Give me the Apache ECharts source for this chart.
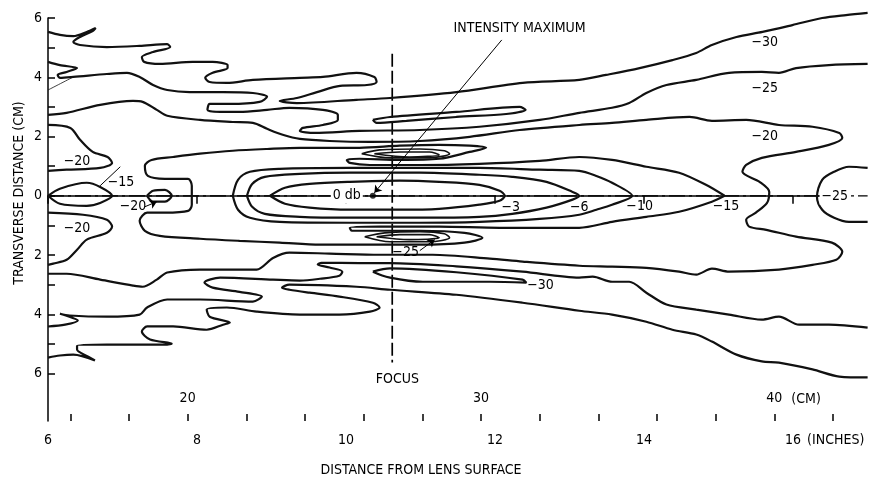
<!DOCTYPE html>
<html>
<head>
<meta charset="utf-8">
<script src="https://cdn.jsdelivr.net/npm/echarts@6/dist/echarts.min.js"></script>
<style>
  html, body { margin: 0; padding: 0; background: #fff; }
  #chart { width: 874px; height: 477px; }
</style>
</head>
<body>
<div id="chart"></div>
<script>
// Axis ticks and labels (x in inches with a secondary centimetre scale, y in cm)
const inchTicks = [6, 8, 10, 12, 14, 16];
const cmTicks = [16, 18, 20, 22, 24, 26, 28, 30, 32, 34, 36, 38, 40, 42];
const cmLabels = [20, 30, 40];
const yTicks = [-6, -5, -4, -3, -2, -1, 0, 1, 2, 3, 4, 5, 6];
const yLabels = [-6, -4, -2, 0, 2, 4, 6];

// Iso-intensity contours, points as [inches from lens, transverse cm]
const contour30Upper = [[6.00,5.53],[6.16,5.43],[6.34,5.39],[6.52,5.53],[6.64,5.66],[6.60,5.56],[6.43,5.36],[6.34,5.19],[6.43,5.09],[6.79,5.02],[7.23,5.06],[7.60,5.12],[7.64,5.02],[7.41,4.85],[7.26,4.68],[7.29,4.52],[7.50,4.45],[7.94,4.52],[8.21,4.52],[8.41,4.41],[8.41,4.31],[8.21,4.15],[8.11,3.98],[8.17,3.84],[8.40,3.81],[8.75,3.91],[9.38,3.98],[9.69,4.01],[10.14,4.15],[10.38,4.01],[10.41,3.84],[10.28,3.74],[9.92,3.71],[9.61,3.50],[9.34,3.30],[9.11,3.20],[9.34,3.13],[10.14,3.24],[10.59,3.30],[11.48,3.50],[12.37,3.81],[13.13,3.91],[13.49,4.08],[13.94,4.31],[14.38,4.58],[14.70,4.82],[14.91,5.09],[15.24,5.36],[15.59,5.53],[15.99,5.76],[16.39,6.00],[16.71,6.10],[17.00,6.17]];
const finger30Upper = [[10.36,2.56],[10.59,2.66],[11.48,2.83],[12.33,3.00],[12.41,2.90],[12.15,2.76],[11.48,2.66],[10.81,2.53],[10.41,2.46],[10.36,2.56]];
const contour25Upper = [[6.00,4.52],[6.16,4.41],[6.39,4.31],[6.25,4.18],[6.13,4.08],[6.16,3.98],[6.34,4.01],[6.79,4.11],[7.06,4.15],[7.23,4.01],[7.41,3.74],[7.60,3.57],[7.90,3.50],[8.35,3.50],[8.75,3.47],[8.94,3.34],[8.84,3.17],[8.44,3.10],[8.17,3.10],[8.14,2.90],[8.31,2.83],[8.57,2.83],[8.94,2.90],[9.24,2.97],[9.69,2.90],[9.89,2.73],[9.89,2.56],[9.69,2.39],[9.42,2.29],[9.38,2.19],[9.58,2.12],[10.18,2.19],[10.99,2.22],[11.79,2.33],[12.60,2.56],[13.13,2.80],[13.57,2.97],[13.80,3.13],[14.03,3.47],[14.30,3.74],[14.70,3.91],[15.14,4.15],[15.58,4.18],[15.81,4.15],[16.04,4.31],[16.48,4.41],[17.00,4.45]];
const contour20 = [[6.00,2.73],[6.25,2.80],[6.70,3.07],[7.14,3.20],[7.27,3.17],[7.46,2.90],[7.60,2.70],[8.04,2.56],[8.48,2.49],[8.75,2.46],[8.94,2.26],[9.15,2.06],[9.38,1.92],[9.78,1.85],[10.32,1.82],[10.99,1.85],[11.66,1.99],[12.33,2.22],[13.13,2.39],[13.57,2.46],[14.03,2.56],[14.61,2.66],[14.91,2.53],[15.37,2.56],[15.81,2.39],[16.26,2.33],[16.62,2.12],[16.66,1.95],[16.48,1.72],[16.04,1.48],[15.58,1.28],[15.37,1.04],[15.32,0.81],[15.55,0.47],[15.68,0.13],[15.65,-0.24],[15.50,-0.57],[15.37,-0.81],[15.41,-1.04],[15.64,-1.15],[16.04,-1.38],[16.52,-1.58],[16.66,-1.89],[16.58,-2.16],[16.26,-2.33],[15.81,-2.49],[15.14,-2.56],[14.91,-2.46],[14.70,-2.66],[14.47,-2.56],[14.03,-2.43],[13.57,-2.39],[13.13,-2.36],[12.37,-2.22],[11.93,-2.12],[11.16,-1.99],[10.45,-1.99],[9.78,-1.95],[9.24,-1.92],[9.02,-2.10],[8.80,-2.49],[8.48,-2.49],[8.04,-2.49],[7.60,-2.59],[7.46,-2.83],[7.27,-3.07],[7.14,-3.03],[6.70,-2.83],[6.25,-2.63],[6.00,-2.63]];
const contour15 = [[15.08,0],[14.83,0.37],[14.47,0.78],[14.03,0.98],[13.57,1.21],[13.13,1.31],[12.60,1.18],[11.79,1.08],[10.99,1.04],[10.32,1.04],[10.05,1.11],[10.01,1.21],[10.18,1.25],[10.72,1.21],[11.25,1.25],[11.66,1.48],[11.88,1.62],[11.66,1.69],[11.25,1.72],[10.72,1.69],[10.18,1.62],[9.65,1.62],[9.38,1.62],[8.94,1.58],[8.48,1.52],[8.04,1.42],[7.68,1.31],[7.39,1.21],[7.30,1.01],[7.34,0.67],[7.57,0.57],[7.88,0.57],[7.93,0.34],[7.93,-0.30],[7.88,-0.51],[7.57,-0.57],[7.33,-0.57],[7.23,-0.84],[7.30,-1.18],[7.50,-1.35],[8.04,-1.45],[8.57,-1.52],[9.11,-1.58],[9.65,-1.65],[10.18,-1.65],[10.99,-1.65],[11.59,-1.58],[11.83,-1.42],[11.59,-1.25],[10.99,-1.18],[10.45,-1.18],[10.08,-1.18],[10.05,-1.08],[10.45,-1.04],[11.25,-1.04],[12.06,-1.08],[13.13,-1.08],[13.57,-0.88],[14.03,-0.71],[14.47,-0.54],[14.91,-0.20],[15.08,0]];
const contour10 = [[8.48,0],[8.55,0.54],[8.71,0.81],[9.11,0.91],[10.05,0.94],[10.99,0.94],[11.79,0.94],[12.60,0.88],[13.13,0.84],[13.36,0.67],[13.57,0.44],[13.84,0],[13.57,-0.30],[13.36,-0.47],[13.13,-0.64],[12.60,-0.78],[11.79,-0.88],[10.99,-0.91],[10.05,-0.91],[9.11,-0.88],[8.71,-0.74],[8.55,-0.47],[8.48,0]];
const contour6 = [[8.67,0],[8.74,0.40],[8.91,0.64],[9.38,0.74],[10.05,0.78],[10.99,0.78],[11.79,0.71],[12.23,0.64],[12.69,0.47],[13.04,0.13],[13.13,0],[13.04,-0.13],[12.69,-0.40],[12.23,-0.61],[11.79,-0.71],[10.99,-0.74],[10.05,-0.74],[9.38,-0.71],[8.91,-0.61],[8.74,-0.37],[8.67,0]];
const contour3 = [[8.98,0],[9.18,0.27],[9.51,0.40],[10.05,0.47],[10.72,0.51],[11.25,0.47],[11.79,0.37],[12.06,0.17],[12.13,0],[12.06,-0.17],[11.79,-0.30],[11.25,-0.44],[10.72,-0.47],[10.05,-0.47],[9.51,-0.40],[9.18,-0.27],[8.98,0]];
const contour25Lower = [[6.00,-4.41],[6.23,-4.35],[6.40,-4.21],[6.24,-4.04],[6.16,-3.98],[6.29,-4.04],[6.79,-4.08],[7.23,-4.01],[7.33,-3.77],[7.60,-3.50],[8.04,-3.50],[8.75,-3.57],[8.87,-3.40],[8.57,-3.24],[8.21,-3.10],[8.10,-2.93],[8.31,-2.76],[9.02,-2.83],[9.38,-2.86],[9.65,-2.80],[9.91,-2.70],[9.95,-2.56],[9.78,-2.42],[9.62,-2.32],[9.67,-2.26],[10.18,-2.27],[10.59,-2.27],[11.48,-2.38],[12.37,-2.56],[13.13,-2.76],[13.31,-2.73],[13.57,-2.90],[13.80,-2.90],[14.03,-3.27],[14.30,-3.67],[14.70,-3.84],[15.14,-4.01],[15.58,-4.18],[15.81,-4.08],[16.08,-4.35],[16.48,-4.35],[17.00,-4.45]];
const finger30Lower = [[10.36,-2.56],[10.59,-2.45],[11.48,-2.58],[12.37,-2.83],[12.42,-2.93],[11.93,-2.90],[11.03,-2.90],[10.59,-2.76],[10.36,-2.56]];
const contour30Lower = [[6.00,-5.46],[6.16,-5.39],[6.34,-5.36],[6.63,-5.56],[6.54,-5.43],[6.39,-5.19],[6.39,-5.06],[6.79,-5.02],[7.23,-5.02],[7.60,-5.02],[7.66,-4.99],[7.37,-4.85],[7.26,-4.58],[7.33,-4.41],[7.68,-4.41],[8.13,-4.52],[8.35,-4.35],[8.44,-4.28],[8.17,-4.08],[8.13,-3.84],[8.40,-3.77],[8.80,-3.91],[9.38,-4.01],[9.91,-4.01],[10.32,-3.91],[10.45,-3.77],[10.36,-3.61],[9.91,-3.40],[9.51,-3.27],[9.24,-3.17],[9.14,-3.10],[9.24,-3.00],[10.14,-3.07],[10.59,-3.17],[11.48,-3.34],[12.37,-3.61],[13.13,-3.88],[13.57,-4.01],[14.03,-4.25],[14.38,-4.52],[14.70,-4.68],[14.91,-4.92],[15.24,-5.36],[15.58,-5.59],[15.81,-5.63],[16.26,-5.86],[16.62,-6.10],[17.00,-6.13]];
const contour25Far = [[17.00,0.94],[16.75,0.98],[16.55,0.81],[16.39,0.54],[16.32,-0.03],[16.39,-0.47],[16.55,-0.74],[16.75,-0.88],[17.00,-0.88]];
const contour20NearUpper = [[6.00,2.39],[6.30,2.29],[6.43,1.89],[6.60,1.48],[6.80,1.31],[6.86,1.11],[6.70,0.94],[6.25,0.88],[6.00,0.84]];
const contour20NearLower = [[6.00,-0.57],[6.47,-0.64],[6.79,-0.81],[6.86,-1.04],[6.79,-1.25],[6.52,-1.48],[6.39,-1.82],[6.25,-2.16],[6.07,-2.29],[6.00,-2.33]];
const contour15Near = [[6.00,0],[6.16,0.24],[6.52,0.44],[6.70,0.30],[6.86,0],[6.70,-0.24],[6.52,-0.34],[6.16,-0.27],[6.00,0]];
const contour20Island = [[7.33,0],[7.41,0.17],[7.57,0.20],[7.66,0],[7.57,-0.20],[7.41,-0.20],[7.33,0]];
// Deep nulls beside the focal zone (closely packed contours)
const nullUpperA = [[10.21,1.42],[10.45,1.55],[10.99,1.58],[11.32,1.52],[11.39,1.42],[11.12,1.28],[10.59,1.28],[10.21,1.42]];
const nullUpperB = [[10.38,1.42],[10.72,1.48],[11.12,1.48],[11.25,1.38],[10.85,1.31],[10.38,1.42]];
const nullLowerA = [[10.25,-1.38],[10.52,-1.25],[10.99,-1.21],[11.32,-1.28],[11.39,-1.42],[11.12,-1.55],[10.59,-1.55],[10.25,-1.38]];
const nullLowerB = [[10.41,-1.38],[10.72,-1.31],[11.12,-1.31],[11.25,-1.42],[10.85,-1.48],[10.41,-1.38]];
const strayTrace = [[6.00,3.57],[6.34,4.01]];

// Reference lines: beam axis and focal plane
const beamAxis = [[6.00,0],[17.00,0]];
const focusLine = [[10.62,4.79],[10.62,-5.63]];
const intensityMax = [[10.36,0]];

// Contour level labels [x, y, text]
const levelLabels = [
  [15.62,5.19,'−30'],[15.62,3.61,'−25'],[15.62,1.99,'−20'],
  [15.10,-0.37,'−15'],[13.94,-0.37,'−10'],[13.13,-0.40,'−6'],[12.21,-0.40,'−3'],
  [6.39,1.15,'−20'],[6.39,-1.11,'−20'],[6.98,0.44,'−15'],[7.14,-0.37,'−20'],
  [10.80,-1.92,'−25'],[12.61,-3.03,'−30']
];
// Labels sitting on the beam axis (drawn on a white patch)
const axisLabels = [[16.56,-0.03,'−25'],[10.01,0,'0 db']];
const notes = [[12.33,5.66,'INTENSITY MAXIMUM'],[10.69,-6.21,'FOCUS']];
// Leader lines [from, to]; arrows end at the marked feature
const arrowLeaders = [
  [[12.09,5.26],[10.38,0.10]],
  [[7.30,-0.37],[7.46,-0.20]],
  [[10.99,-1.85],[11.19,-1.48]]
];
const plainLeader = [[6.97,0.98],[6.70,0.34]];

const FONT = '"Liberation Sans Narrow","DejaVu Sans Condensed","Arial Narrow",sans-serif';
const INK = '#000';

// Plot box: grid 0 carries the drawing (it runs past the end of the scale),
// grid 1 carries the visible scales. Both share the same inch/cm scale.
const LEFT = 48, TOP = 18, BOTTOM = 56;
const X_MIN = 6, X_SCALE_MAX = 42 / 2.54, X_DRAW_MAX = 17.0;
const Y_MIN = -7.6, Y_MAX = 6, Y_DRAW_MAX = 6.4;
const AXIS_RIGHT = 41;
const pxPerInch = (874 - LEFT - AXIS_RIGHT) / (X_SCALE_MAX - X_MIN);
const pxPerCm = (477 - TOP - BOTTOM) / (Y_MAX - Y_MIN);
const drawRight = 874 - LEFT - pxPerInch * (X_DRAW_MAX - X_MIN);
const drawTop = TOP - pxPerCm * (Y_DRAW_MAX - Y_MAX);

function contour(data, width) {
  return {
    type: 'line', data, smooth: 0.3, symbol: 'none', silent: true,
    xAxisIndex: 0, yAxisIndex: 0,
    lineStyle: { color: '#111', width: width || 2.2 }, z: 3, animation: false
  };
}

const series = [
  contour(contour30Upper), contour(finger30Upper), contour(contour25Upper),
  contour(contour20), contour(contour15), contour(contour10), contour(contour6),
  contour(contour3), contour(contour25Lower), contour(finger30Lower),
  contour(contour30Lower), contour(contour25Far), contour(contour20NearUpper),
  contour(contour20NearLower), contour(contour15Near), contour(contour20Island),
  contour(nullUpperA, 1.6), contour(nullUpperB, 1.6),
  contour(nullLowerA, 1.6), contour(nullLowerB, 1.6),
  contour(strayTrace, 0.8),
  {
    type: 'line', data: beamAxis, symbol: 'none', silent: true, z: 2,
    lineStyle: { color: INK, width: 1.3, type: [16, 4, 3, 4] }, animation: false
  },
  {
    type: 'line', data: focusLine, symbol: 'none', silent: true, z: 2,
    lineStyle: { color: INK, width: 1.7, type: [13, 4] }, animation: false
  },
  {
    type: 'line', data: plainLeader, symbol: 'none', silent: true, z: 4,
    lineStyle: { color: INK, width: 1 }, animation: false
  },
  {
    type: 'lines', coordinateSystem: 'cartesian2d', xAxisIndex: 0, yAxisIndex: 0, silent: true, z: 4,
    data: arrowLeaders.map(c => ({ coords: c })),
    symbol: ['none', 'arrow'], symbolSize: 7,
    lineStyle: { color: INK, width: 1, opacity: 1 }, animation: false
  },
  {
    type: 'scatter', data: intensityMax, symbolSize: 6, z: 7, silent: true,
    itemStyle: { color: INK }, animation: false
  }
];

const labelFont = { color: INK, fontFamily: FONT, fontSize: 14 };
const chart = echarts.init(document.getElementById('chart'));
chart.setOption({
  backgroundColor: '#fff',
  animation: false,
  grid: [
    { left: LEFT, right: drawRight, top: drawTop, bottom: BOTTOM },
    { left: LEFT, right: AXIS_RIGHT, top: TOP, bottom: BOTTOM }
  ],
  xAxis: [
    { type: 'value', gridIndex: 0, min: X_MIN, max: X_DRAW_MAX, show: false },
    {
      type: 'value', gridIndex: 1, min: X_MIN, max: X_SCALE_MAX, position: 'bottom', offset: 0,
      axisLine: { show: true, lineStyle: { color: INK, width: 1.5 } },
      axisTick: { show: true, inside: false, length: 8, customValues: inchTicks, lineStyle: { color: INK, width: 1.5 } },
      axisLabel: Object.assign({ customValues: inchTicks, margin: 12 }, labelFont),
      splitLine: { show: false }
    },
    {
      type: 'value', gridIndex: 1, min: X_MIN * 2.54, max: 42, position: 'bottom', offset: 0,
      axisLine: { show: false },
      axisTick: { show: true, inside: true, length: 7, customValues: cmTicks, lineStyle: { color: INK, width: 1.5 } },
      axisLabel: Object.assign({ inside: true, customValues: cmLabels, margin: 16 }, labelFont),
      splitLine: { show: false }
    }
  ],
  yAxis: [
    { type: 'value', gridIndex: 0, min: Y_MIN, max: Y_DRAW_MAX, show: false },
    {
      type: 'value', gridIndex: 1, min: Y_MIN, max: Y_MAX,
      axisLine: { show: true, lineStyle: { color: INK, width: 1.5 } },
      axisTick: { show: true, inside: true, length: 7, customValues: yTicks, lineStyle: { color: INK, width: 1.5 } },
      axisLabel: Object.assign({ customValues: yLabels, margin: 6, formatter: v => String(Math.abs(v)) }, labelFont),
      splitLine: { show: false }
    }
  ],
  series
});

// Text placed through the drawing grid's scales, plus axis titles and unit tags
const toPx = (x, y) => chart.convertToPixel({ xAxisIndex: 0, yAxisIndex: 0 }, [x, y]);
const px16 = chart.convertToPixel({ xAxisIndex: 1 }, 16);
const px40 = chart.convertToPixel({ xAxisIndex: 2 }, 40);
const baseY = chart.convertToPixel({ yAxisIndex: 1 }, Y_MIN);
const txt = (x, y, text, extra) => ({
  type: 'text', x, y, z: 100,
  style: Object.assign({ text, fill: INK, font: '14px ' + FONT, textAlign: 'left', textVerticalAlign: 'middle' }, extra || {})
});
const placed = (items, extra) => items.map(([x, y, t]) => {
  const p = toPx(x, y);
  return txt(p[0], p[1], t, Object.assign({ textAlign: 'center' }, extra || {}));
});
chart.setOption({
  graphic: [
    ...placed(levelLabels),
    ...placed(axisLabels, { backgroundColor: '#fff', padding: [1, 2] }),
    ...placed(notes),
    txt(px16 + 14, baseY + 19, '(INCHES)'),
    txt(px40 + 17, baseY - 22, '(CM)'),
    txt(421, baseY + 49, 'DISTANCE FROM LENS SURFACE', { textAlign: 'center' }),
    Object.assign(txt(0, 0, 'TRANSVERSE DISTANCE (CM)', { textAlign: 'center' }), { x: 19, y: 193, rotation: Math.PI / 2 })
  ]
});
</script>
</body>
</html>
